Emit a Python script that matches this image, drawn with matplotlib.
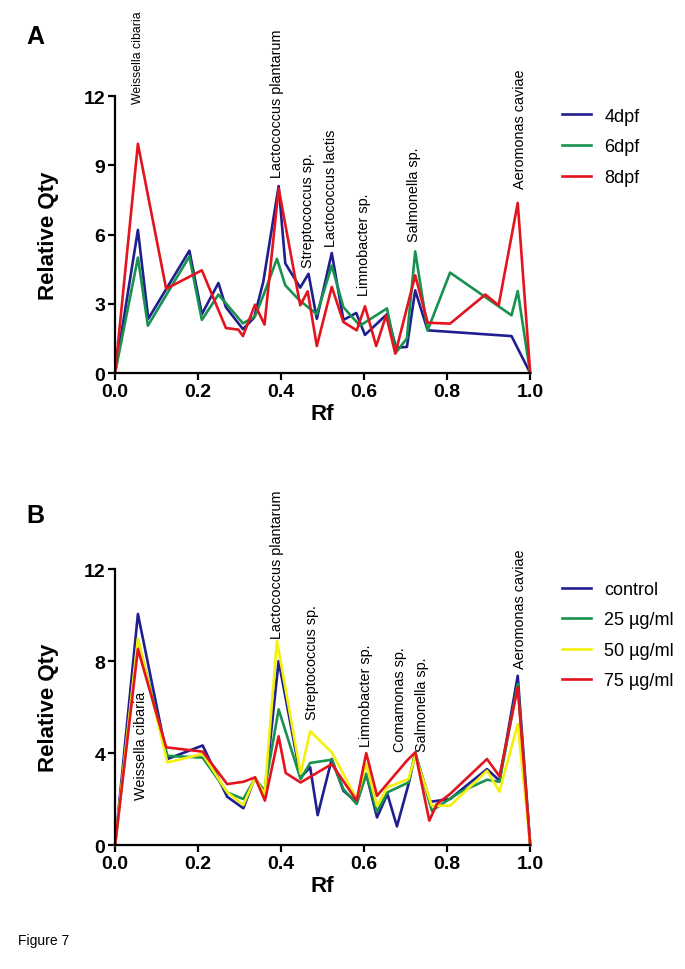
import matplotlib
matplotlib.use("Agg")
import matplotlib.pyplot as plt

plt.rcParams['font.family'] = ['Liberation Sans', 'DejaVu Sans']

# ---- Panel A data (Rf, relative qty) ----
a_4dpf_x = [0, 0.055, 0.080, 0.179, 0.209, 0.249, 0.267, 0.308, 0.335, 0.357, 0.394, 0.41, 0.446, 0.466,
            0.486, 0.522, 0.55, 0.581, 0.602, 0.655, 0.677, 0.703, 0.723, 0.753, 0.955, 1.0]
a_4dpf_y = [0, 6.2, 2.35, 5.3, 2.55, 3.9, 2.85, 1.9, 2.4, 3.95, 8.1, 4.75, 3.7, 4.3,
            2.35, 5.2, 2.3, 2.6, 1.65, 2.55, 1.1, 1.13, 3.58, 1.85, 1.6, 0]

a_6dpf_x = [0, 0.055, 0.079, 0.179, 0.209, 0.249, 0.308, 0.337, 0.357, 0.39, 0.41, 0.444, 0.486,
            0.522, 0.55, 0.59, 0.655, 0.677, 0.703, 0.723, 0.753, 0.807, 0.955, 0.97, 1.0]
a_6dpf_y = [0, 5.0, 2.05, 5.05, 2.3, 3.4, 2.15, 2.45, 3.35, 4.95, 3.8, 3.15, 2.55,
            4.65, 2.85, 2.05, 2.8, 0.9, 1.5, 5.27, 1.85, 4.35, 2.5, 3.55, 0]

a_8dpf_x = [0, 0.055, 0.123, 0.209, 0.267, 0.297, 0.308, 0.337, 0.36, 0.394, 0.446, 0.464, 0.486,
            0.522, 0.55, 0.582, 0.602, 0.629, 0.653, 0.675, 0.723, 0.753, 0.807, 0.892, 0.924, 0.97, 1.0]
a_8dpf_y = [0, 9.93, 3.65, 4.45, 1.95, 1.88, 1.6, 2.96, 2.1, 8.0, 2.93, 3.54, 1.17,
            3.73, 2.21, 1.85, 2.89, 1.17, 2.5, 0.84, 4.23, 2.18, 2.14, 3.4, 2.93, 7.37, 0]

a_labels = ["Weissella cibaria", "Lactococcus plantarum", "Streptococcus sp.", "Lactococcus lactis",
            "Limnobacter sp.", "Salmonella sp.", "Aeromonas caviae"]
a_label_x = [0.055, 0.39, 0.465, 0.52, 0.60, 0.72, 0.975]
a_label_y = [11.7, 8.5, 4.6, 5.5, 3.4, 5.7, 8.0]

# ---- Panel B data ----
b_ctrl_x = [0, 0.055, 0.126, 0.211, 0.27, 0.309, 0.337, 0.36, 0.394, 0.447, 0.47, 0.488, 0.522,
            0.55, 0.582, 0.605, 0.631, 0.656, 0.679, 0.707, 0.723, 0.759, 0.807, 0.831, 0.896, 0.926, 0.97, 1.0]
b_ctrl_y = [0, 10.05, 3.74, 4.33, 2.1, 1.6, 2.94, 2.17, 8.0, 2.94, 3.38, 1.3, 3.74,
            2.36, 1.86, 3.09, 1.2, 2.22, 0.81, 2.65, 3.96, 1.88, 2.0, 2.36, 3.3, 2.8, 7.36, 0]

b_25_x = [0, 0.055, 0.126, 0.211, 0.27, 0.309, 0.337, 0.36, 0.394, 0.447, 0.47, 0.522,
          0.55, 0.582, 0.605, 0.631, 0.656, 0.707, 0.723, 0.763, 0.831, 0.896, 0.926, 0.97, 1.0]
b_25_y = [0, 8.9, 3.88, 3.8, 2.29, 2.0, 2.9, 2.36, 5.9, 2.87, 3.57, 3.71,
          2.43, 1.78, 3.09, 1.45, 2.29, 2.72, 4.03, 1.49, 2.3, 2.84, 2.75, 7.0, 0]

b_50_x = [0, 0.055, 0.126, 0.211, 0.27, 0.309, 0.337, 0.36, 0.39, 0.447, 0.47, 0.522,
          0.582, 0.605, 0.631, 0.656, 0.707, 0.723, 0.763, 0.807, 0.896, 0.926, 0.97, 1.0]
b_50_y = [0, 8.98, 3.59, 3.96, 2.3, 1.74, 2.92, 2.2, 8.88, 3.1, 4.95, 4.03,
          2.0, 3.52, 1.7, 2.51, 2.87, 3.88, 1.71, 1.71, 3.23, 2.32, 5.26, 0]

b_75_x = [0, 0.055, 0.123, 0.211, 0.27, 0.309, 0.337, 0.361, 0.394, 0.411, 0.447, 0.522,
          0.582, 0.605, 0.631, 0.703, 0.723, 0.757, 0.775, 0.807, 0.896, 0.926, 0.97, 1.0]
b_75_y = [0, 8.52, 4.25, 4.06, 2.65, 2.75, 2.94, 1.93, 4.73, 3.13, 2.72, 3.52,
          1.93, 4.0, 2.14, 3.67, 4.03, 1.06, 1.78, 2.22, 3.74, 2.99, 6.86, 0]

b_labels = ["Weissella cibaria", "Lactococcus plantarum", "Streptococcus sp.", "Limnobacter sp.",
            "Comamonas sp.", "Salmonella sp.", "Aeromonas caviae"]
b_label_x = [0.062, 0.39, 0.475, 0.605, 0.687, 0.74, 0.975]
b_label_y = [2.0, 9.0, 5.5, 4.3, 4.1, 4.1, 7.7]

BLUE = "#1f1f8f"
GREEN = "#17924f"
YELLOW = "#f4f00a"
RED = "#e3141e"

fig = plt.figure(figsize=(6.85, 9.70), dpi=100)
axA = fig.add_axes([0.168, 0.6144, 0.606, 0.2856])
axB = fig.add_axes([0.168, 0.1278, 0.606, 0.2845])


def style(ax, yticks):
    for s in ['top', 'right']:
        ax.spines[s].set_visible(False)
    for s in ['left', 'bottom']:
        ax.spines[s].set_linewidth(1.6)
    ax.set_xlim(0, 1.0)
    ax.set_ylim(0, 12)
    ax.set_xticks([0, 0.2, 0.4, 0.6, 0.8, 1.0])
    ax.set_xticklabels(["0.0", "0.2", "0.4", "0.6", "0.8", "1.0"])
    ax.set_yticks(yticks)
    ax.tick_params(direction='out', length=5, width=1.6, labelsize=14, pad=2)
    for lbl in ax.get_xticklabels() + ax.get_yticklabels():
        lbl.set_fontweight('bold')
    ax.set_xlabel("Rf", fontsize=16, fontweight='bold', labelpad=2)
    ax.set_ylabel("Relative Qty", fontsize=16, fontweight='bold', labelpad=18)


def legend(ax):
    ax.legend(loc='upper left', bbox_to_anchor=(1.055, 0.99), frameon=False, fontsize=13,
              handlelength=1.6, handletextpad=0.75, labelspacing=0.75, borderpad=0)


lw = 1.9
axA.plot(a_4dpf_x, a_4dpf_y, color=BLUE, lw=lw, label="4dpf", clip_on=False)
axA.plot(a_6dpf_x, a_6dpf_y, color=GREEN, lw=lw, label="6dpf", clip_on=False)
axA.plot(a_8dpf_x, a_8dpf_y, color=RED, lw=lw, label="8dpf", clip_on=False)
style(axA, [0, 3, 6, 9, 12])
for i, (t, x, y) in enumerate(zip(a_labels, a_label_x, a_label_y)):
    fs = 8.8 if i == 0 else 10.4
    axA.text(x, y, t, rotation=90, ha='center', va='bottom', fontsize=fs, clip_on=False)
legend(axA)

axB.plot(b_ctrl_x, b_ctrl_y, color=BLUE, lw=lw, label="control", clip_on=False)
axB.plot(b_25_x, b_25_y, color=GREEN, lw=lw, label="25 µg/ml", clip_on=False)
axB.plot(b_50_x, b_50_y, color=YELLOW, lw=lw, label="50 µg/ml", clip_on=False)
axB.plot(b_75_x, b_75_y, color=RED, lw=lw, label="75 µg/ml", clip_on=False)
style(axB, [0, 4, 8, 12])
for t, x, y in zip(b_labels, b_label_x, b_label_y):
    axB.text(x, y, t, rotation=90, ha='center', va='bottom', fontsize=10.4, clip_on=False)
legend(axB)

fig.text(0.038, 0.962, "A", fontsize=18, fontweight='bold', va='center')
fig.text(0.038, 0.468, "B", fontsize=18, fontweight='bold', va='center')
fig.text(0.026, 0.030, "Figure 7", fontsize=10, va='center')

fig.savefig("out.png", dpi=100)
